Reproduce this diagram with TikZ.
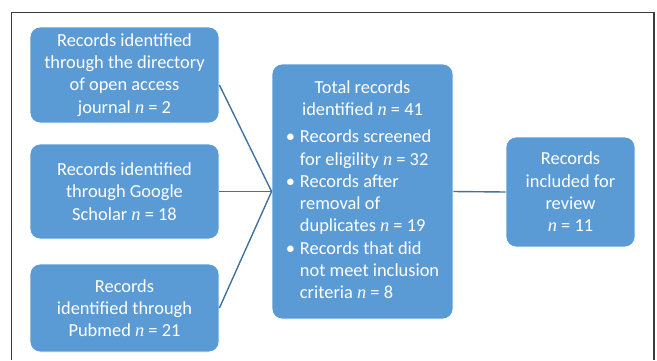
\documentclass[tikz,border=0pt]{standalone}
\usepackage{fontspec}
\setmainfont{Carlito}
\newfontfamily\nfont{Liberation Serif}
\newcommand{\nvar}{{\nfont\itshape n}}
\definecolor{boxblue}{RGB}{91,155,213}
\definecolor{linkblue}{RGB}{65,113,156}
\definecolor{framegray}{RGB}{60,60,60}
\begin{document}
\begin{tikzpicture}[x=1pt, y=-1pt,
    every node/.style={font=\fontsize{18.4}{22.3}\selectfont, text=white},
    rec/.style={draw=white, line width=0.8pt, fill=boxblue, rounded corners=10pt, align=center, inner sep=0pt},
    link/.style={draw=linkblue, line width=1.4pt}]
    \useasboundingbox (0,0) rectangle (657,360);

    % Outer frame (open at the bottom)
    \draw[framegray, line width=1.3pt] (11.5,360) -- (11.5,12.5) -- (654,12.5) -- (654,360);

    % Source boxes
    \node[rec, minimum width=189, minimum height=96]
        (doaj) at (124.5,75) {Records identified\\through the directory\\of open access\\journal \nvar{} = 2};
    \node[rec, minimum width=189, minimum height=95]
        (scholar) at (124.5,191.5) {Records identified\\through Google\\Scholar \nvar{} = 18};
    \node[rec, minimum width=189, minimum height=88]
        (pubmed) at (124.5,308) {Records\\identified through\\Pubmed \nvar{} = 21};

    % Total records box
    \node[rec, minimum width=181, minimum height=255]
        (total) at (362.5,191.5) {%
        \begin{tabular}{@{}l@{\hspace{5pt}}l@{}}
        \multicolumn{2}{c}{Total records}\\
        \multicolumn{2}{c}{identified \nvar{} = 41}\\[5pt]
        \textbullet & Records screened\\
                    & for eligility \nvar{} = 32\\
        \textbullet & Records after\\
                    & removal of\\
                    & duplicates \nvar{} = 19\\
        \textbullet & Records that did\\
                    & not meet inclusion\\
                    & criteria \nvar{} = 8
        \end{tabular}};

    % Included box
    \node[rec, minimum width=129, minimum height=110]
        (incl) at (570.5,192) {Records\\included for\\review\\\nvar{} = 11};

    % Links
    \draw[link] ([yshift=-10]doaj.east) -- (total.west);
    \draw[link] (scholar.east) -- (total.west);
    \draw[link] (pubmed.east) -- (total.west);
    \draw[link] (total.east) -- (incl.west);
\end{tikzpicture}
\end{document}
